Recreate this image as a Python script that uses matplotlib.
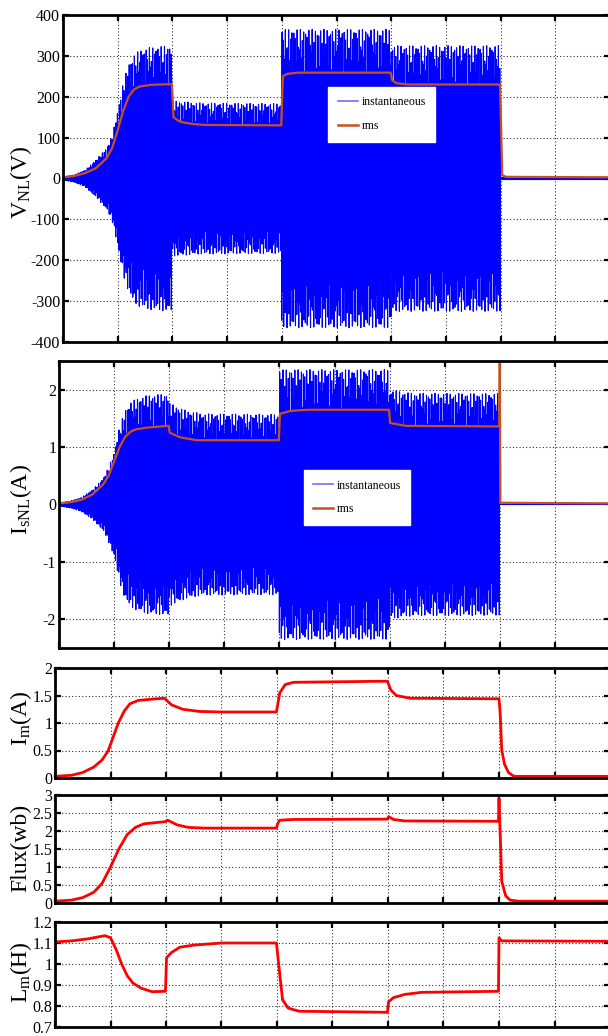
import numpy as np
import matplotlib
matplotlib.use("Agg")
import matplotlib.pyplot as plt
from matplotlib.lines import Line2D

plt.rcParams['font.family'] = ['Liberation Serif', 'DejaVu Serif']
plt.rcParams['mathtext.fontset'] = 'custom'
plt.rcParams['mathtext.rm'] = 'Liberation Serif'
plt.rcParams['mathtext.it'] = 'Liberation Serif:italic'
plt.rcParams['axes.unicode_minus'] = False

# ---------------- data (time in grid units 0..10) ----------------
# Panel 1: stator voltage
v_env_t = [0, 0.2, 0.4, 0.6, 0.8, 0.9, 1.0, 1.1, 1.2, 1.3, 1.4, 1.6, 1.99, 2.0, 2.5, 3.99, 4.0, 5.99, 6.0, 7.99, 8.0, 10]
v_env   = [4, 9, 20, 45, 75, 105, 165, 235, 280, 302, 314, 321, 325, 190, 185, 183, 365, 365, 325, 325, 3, 3]
v_rms_t = [0, 0.2, 0.4, 0.6, 0.8, 0.9, 1.0, 1.1, 1.2, 1.3, 1.4, 1.6, 1.99, 2.02, 2.1, 2.2, 2.4, 2.6, 3.99, 4.02, 4.1, 4.3, 5.99, 6.02, 6.1, 6.3, 7.99, 8.03, 8.1, 10]
v_rms   = [3, 6, 13, 25, 50, 75, 118, 165, 200, 218, 225, 229, 231, 150, 142, 137, 133, 131, 130, 250, 256, 259, 259, 240, 233, 230, 230, 8, 4, 3]

# Panel 2: stator current
i_env_t = [0, 0.2, 0.4, 0.6, 0.8, 0.9, 1.0, 1.1, 1.2, 1.3, 1.4, 1.6, 1.99, 2.0, 2.3, 2.6, 3.99, 4.0, 5.99, 6.0, 6.4, 7.99, 8.0, 10]
i_env   = [0.03, 0.06, 0.12, 0.25, 0.45, 0.65, 0.9, 1.35, 1.65, 1.78, 1.84, 1.9, 1.93, 1.77, 1.64, 1.58, 1.57, 2.35, 2.35, 2.0, 1.94, 1.93, 0.0, 0.0]
i_rms_t = [0, 0.2, 0.4, 0.6, 0.8, 0.9, 1.0, 1.1, 1.2, 1.3, 1.4, 1.6, 1.99, 2.01, 2.2, 2.5, 3.99, 4.01, 4.2, 4.5, 5.99, 6.01, 6.3, 7.99, 8.0, 8.01, 10]
i_rms   = [0.02, 0.04, 0.08, 0.17, 0.35, 0.5, 0.75, 1.0, 1.18, 1.27, 1.31, 1.34, 1.37, 1.25, 1.17, 1.12, 1.12, 1.58, 1.63, 1.65, 1.65, 1.42, 1.37, 1.36, 2.6, 0.03, 0.02]

# Panel 3: magnetizing current
im_t = [0, 0.3, 0.5, 0.7, 0.85, 0.96, 1.05, 1.14, 1.25, 1.35, 1.5, 1.7, 1.97, 2.1, 2.3, 2.6, 3.0, 3.99, 4.05, 4.15, 4.3, 5.99, 6.05, 6.15, 6.4, 8.0, 8.02, 8.05, 8.1, 8.17, 8.27, 10]
im   = [0.03, 0.05, 0.1, 0.2, 0.33, 0.5, 0.75, 1.0, 1.22, 1.35, 1.41, 1.43, 1.45, 1.33, 1.25, 1.21, 1.2, 1.2, 1.55, 1.7, 1.74, 1.76, 1.6, 1.5, 1.45, 1.44, 1.2, 0.5, 0.25, 0.1, 0.03, 0.03]

# Panel 4: flux
fl_t = [0, 0.3, 0.5, 0.7, 0.85, 1.0, 1.15, 1.3, 1.45, 1.6, 1.8, 1.99, 2.03, 2.2, 2.4, 2.7, 3.99, 4.01, 4.05, 4.3, 5.99, 6.01, 6.1, 6.3, 7.99, 8.0, 8.05, 8.12, 8.2, 8.35, 10]
fl   = [0.05, 0.08, 0.15, 0.3, 0.55, 1.0, 1.5, 1.9, 2.1, 2.2, 2.23, 2.26, 2.3, 2.17, 2.1, 2.08, 2.08, 2.2, 2.3, 2.32, 2.33, 2.4, 2.32, 2.28, 2.27, 2.9, 0.6, 0.2, 0.08, 0.05, 0.05]

# Panel 5: magnetizing inductance
lm_t = [0, 0.3, 0.6, 0.9, 1.0, 1.1, 1.2, 1.3, 1.4, 1.55, 1.75, 1.99, 2.01, 2.1, 2.25, 2.5, 3.0, 3.99, 4.05, 4.1, 4.2, 4.4, 5.99, 6.01, 6.1, 6.3, 6.6, 7.99, 8.0, 8.05, 10]
lm   = [1.105, 1.11, 1.12, 1.135, 1.125, 1.07, 1.0, 0.945, 0.91, 0.885, 0.868, 0.87, 1.03, 1.055, 1.08, 1.09, 1.1, 1.1, 0.95, 0.83, 0.79, 0.775, 0.77, 0.82, 0.84, 0.855, 0.865, 0.87, 1.125, 1.11, 1.108]

v_ticks = [-400, -300, -200, -100, 0, 100, 200, 300, 400]
i_ticks = [-2, -1, 0, 1, 2]
im_ticks = [0, 0.5, 1, 1.5, 2]
im_labels = ['0', '0.5', '1', '1.5', '2']
fl_ticks = [0, 0.5, 1, 1.5, 2, 2.5, 3]
fl_labels = ['0', '0.5', '1', '1.5', '2', '2.5', '3']
lm_ticks = [0.7, 0.8, 0.9, 1.0, 1.1, 1.2]
lm_labels = ['0.7', '0.8', '0.9', '1', '1.1', '1.2']
legend_labels = ['instantaneous', 'rms']

BLUE = '#0000FF'
RMS = '#C8501E'
RED = '#FF0000'

W, H = 608, 1036
fig = plt.figure(figsize=(W / 100, H / 100), dpi=100)
fig.patch.set_facecolor('white')


def make_ax(left, top, bottom, right=610):
    return fig.add_axes([left / W, 1 - bottom / H, (right - left) / W, (bottom - top) / H])


def style(ax, ticks, labels=None):
    ax.set_xlim(0, 10)
    ax.set_xticks(np.arange(0, 11, 1))
    ax.set_xticklabels([])
    ax.set_yticks(ticks)
    if labels is not None:
        ax.set_yticklabels(labels)
    ax.set_ylim(ticks[0], ticks[-1])
    ax.grid(True, color='black', linestyle=(0, (1, 2)), linewidth=0.8, alpha=0.8)
    for s in ax.spines.values():
        s.set_linewidth(2.0)
        s.set_color('black')
    ax.tick_params(direction='in', length=4, width=1.6, top=True, right=True,
                   labelsize=11.5, pad=2, colors='black')


def add_legend(ax, anchor):
    h = [Line2D([], [], color='#7070FF', lw=1.2), Line2D([], [], color=RMS, lw=1.8)]
    ax.legend(h, legend_labels, loc='upper left', bbox_to_anchor=anchor, fontsize=8.5,
              frameon=True, fancybox=False, edgecolor='white', framealpha=1,
              handlelength=1.7, handletextpad=0.3, borderaxespad=0.0,
              borderpad=0.8, labelspacing=1.0)


# carrier for instantaneous traces (coarsely sampled, as in the original plot)
tf = np.linspace(0, 10, 2001)
carrier = np.sin(2 * np.pi * 83.7 * tf)

# Panel 1
ax1 = make_ax(63, 15, 342)
ax1.plot(tf, np.interp(tf, v_env_t, v_env) * carrier, color=BLUE, lw=0.8)
ax1.plot(v_rms_t, v_rms, color=RMS, lw=1.6)
style(ax1, v_ticks)
add_legend(ax1, (0.485, 0.78))

# Panel 2
ax2 = make_ax(59, 361, 648)
ax2.plot(tf, np.interp(tf, i_env_t, i_env) * carrier, color=BLUE, lw=0.8)
ax2.plot(i_rms_t, i_rms, color=RMS, lw=1.6)
style(ax2, i_ticks)
ax2.set_ylim(-2.5, 2.5)
add_legend(ax2, (0.444, 0.62))

# Panel 3
ax3 = make_ax(55, 668, 778)
ax3.plot(im_t, im, color=RED, lw=2)
style(ax3, im_ticks, im_labels)

# Panel 4
ax4 = make_ax(55, 795, 903)
ax4.plot(fl_t, fl, color=RED, lw=2)
style(ax4, fl_ticks, fl_labels)

# Panel 5
ax5 = make_ax(55, 922, 1027)
ax5.plot(lm_t, lm, color=RED, lw=2)
style(ax5, lm_ticks, lm_labels)


# y labels
def ylab(x, y, s):
    fig.text(x / W, 1 - y / H, s, rotation=90, ha='center', va='center', fontsize=17)


ylab(21, 182, r'V$_{\mathrm{NL}}$(V)')
ylab(21, 500, r'I$_{\mathrm{sNL}}$(A)')
ylab(21, 718, r'I$_{\mathrm{m}}$(A)')
ylab(21, 848, 'Flux(wb)')
ylab(21, 972, r'L$_{\mathrm{m}}$(H)')

fig.savefig('out.png', dpi=100)
